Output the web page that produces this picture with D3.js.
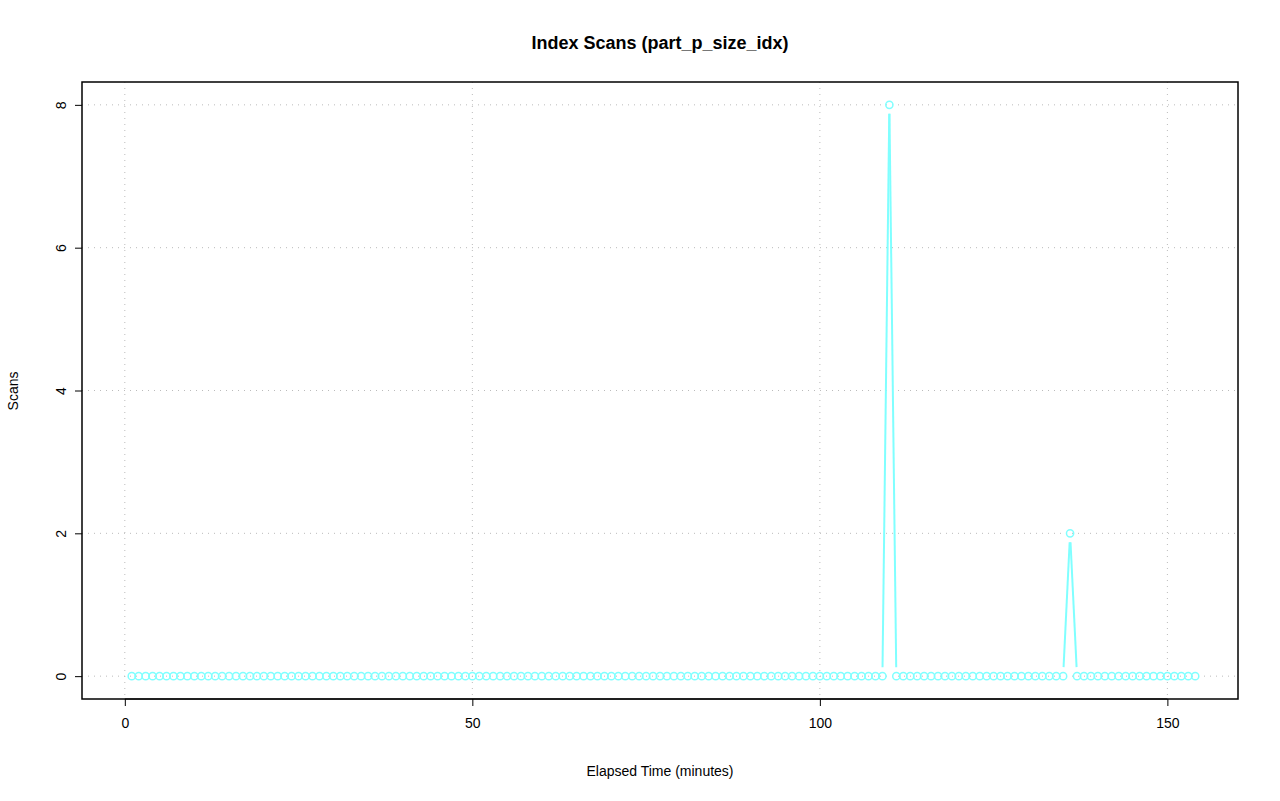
<!DOCTYPE html>
<html><head><meta charset="utf-8">
<script src="https://cdn.jsdelivr.net/npm/d3@7"></script>
<style>body{margin:0;background:#fff}</style></head>
<body><svg id="c" width="1280" height="801"></svg>
<script>
const minutes = d3.range(1, 155);
const spikes = {110: 8, 136: 2};
const scans = minutes.map(m => spikes[m] || 0);
const xTicks = [0, 50, 100, 150];
const yTicks = [0, 2, 4, 6, 8];
const col = "#80ffff";
const svg = d3.select("#c");
const L=82,R=1238,T=82,B=699;
const x = d3.scaleLinear().domain([-6.16,160.16]).range([L,R]);
const y = d3.scaleLinear().domain([-0.32,8.32]).range([B,T]);
const ff = "Liberation Sans, Arial, sans-serif";
const g = svg.append("g");
xTicks.forEach(t=>g.append("line").attr("x1",x(t)).attr("x2",x(t)).attr("y1",T).attr("y2",B).attr("stroke","#bbb").attr("stroke-dasharray","1,5"));
yTicks.forEach(t=>g.append("line").attr("y1",y(t)).attr("y2",y(t)).attr("x1",L).attr("x2",R).attr("stroke","#bbb").attr("stroke-dasharray","1,5"));
const gap = 9;
for (let i=0;i<minutes.length-1;i++){
  const x1=x(minutes[i]),y1=y(scans[i]),x2=x(minutes[i+1]),y2=y(scans[i+1]);
  const dx=x2-x1,dy=y2-y1,len=Math.hypot(dx,dy);
  if(len<=2*gap) continue;
  const ux=dx/len,uy=dy/len;
  g.append("line").attr("x1",x1+ux*gap).attr("y1",y1+uy*gap).attr("x2",x2-ux*gap).attr("y2",y2-uy*gap).attr("stroke",col).attr("stroke-width",2);
}
g.selectAll("circle.p").data(minutes).join("circle").attr("cx",d=>x(d)).attr("cy",(d,i)=>y(scans[i])).attr("r",3.6).attr("fill","none").attr("stroke",col).attr("stroke-width",1.5);
svg.append("rect").attr("x",L).attr("y",T).attr("width",R-L).attr("height",B-T).attr("fill","none").attr("stroke","#000").attr("stroke-width",1.5);
const xa = svg.append("g").attr("transform",`translate(0,${B})`).call(d3.axisBottom(x).tickValues(xTicks).tickSize(7).tickPadding(12));
const ya = svg.append("g").attr("transform",`translate(${L},0)`).call(d3.axisLeft(y).tickValues(yTicks).tickSize(7).tickPadding(12));
[xa,ya].forEach(a=>{a.select(".domain").remove();a.selectAll("line").attr("stroke","#000");a.selectAll("text").attr("font-family",ff).attr("font-size",14).attr("fill","#000");});
svg.append("line").attr("x1",x(0)).attr("x2",x(150)).attr("y1",B).attr("y2",B).attr("stroke","#000");
ya.selectAll("text").attr("text-anchor","middle").attr("dy",null).attr("x",0).attr("y",0).attr("dominant-baseline","central").attr("transform","translate(-21,0) rotate(-90)");
svg.append("text").attr("x",660).attr("y",49).attr("text-anchor","middle").attr("font-family",ff).attr("font-weight","bold").attr("font-size",18).text("Index Scans (part_p_size_idx)");
svg.append("text").attr("x",660).attr("y",776).attr("text-anchor","middle").attr("font-family",ff).attr("font-size",14).text("Elapsed Time (minutes)");
svg.append("text").attr("transform","translate(18,391) rotate(-90)").attr("text-anchor","middle").attr("font-family",ff).attr("font-size",14).text("Scans");
</script></body></html>
